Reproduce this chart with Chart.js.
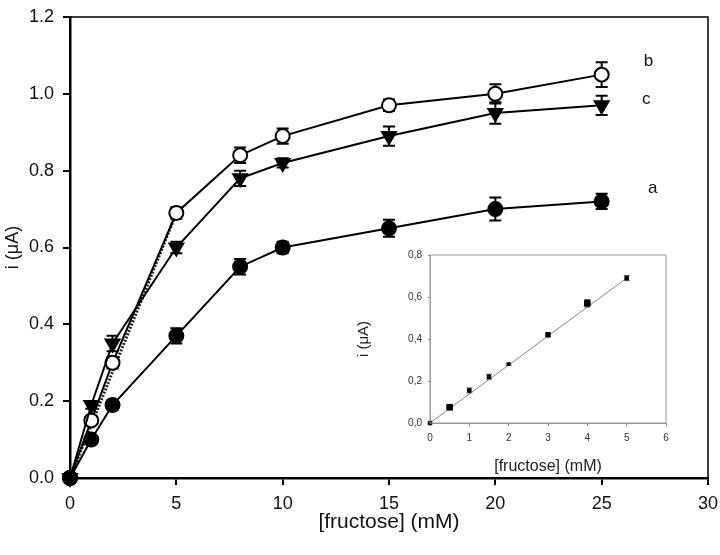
<!DOCTYPE html>
<html>
<head>
<meta charset="utf-8">
<script src="https://cdn.jsdelivr.net/npm/chart.js@4.4.1/dist/chart.umd.min.js"></script>
<style>
  html, body { margin: 0; padding: 0; background: #fff; }
  #wrap { position: relative; width: 720px; height: 555px; }
  #main { position: absolute; left: 0; top: 0; }
  #inset { position: absolute; left: 350px; top: 245px; }
</style>
</head>
<body>
<div id="wrap">
  <canvas id="main" width="720" height="555"></canvas>
  <canvas id="inset" width="330" height="232"></canvas>
</div>
<script>
// main plot data
const conc = [0, 1, 2, 5, 8, 10, 15, 20, 25];
const seriesA = [0, 0.10, 0.19, 0.37, 0.55, 0.60, 0.65, 0.70, 0.72];
const errA = [0.01, 0.01, 0.012, 0.02, 0.02, 0.015, 0.022, 0.03, 0.02];
const seriesB = [0, 0.15, 0.30, 0.69, 0.84, 0.89, 0.97, 1.00, 1.05];
const errB = [0.01, 0.01, 0.015, 0.015, 0.02, 0.02, 0.015, 0.025, 0.032];
const seriesC = [0, 0.19, 0.35, 0.60, 0.78, 0.82, 0.89, 0.95, 0.97];
const errC = [0.01, 0.01, 0.02, 0.015, 0.02, 0.012, 0.025, 0.028, 0.025];
const fitX = [0, 5];
const fitY = [0, 0.69];
const seriesNames = ["a", "b", "c"];
const mainYTicks = ["0.0", "0.2", "0.4", "0.6", "0.8", "1.0", "1.2"];

// inset data
const insetConc = [0, 0.5, 1, 1.5, 2, 3, 4, 5];
const insetI = [0, 0.075, 0.155, 0.22, 0.28, 0.42, 0.57, 0.69];
const insetErr = [0, 0.006, 0.012, 0.012, 0.005, 0.01, 0.018, 0.012];
const insetFitX = [0, 5];
const insetFitY = [0, 0.69];
const insetYTicks = ["0,0", "0,2", "0,4", "0,6", "0,8"];

// inset marker sizes (the scanned squares differ in size)
const insetMarkerRadius = [2.5, 4, 2.5, 2.5, 2, 3, 4, 2.5];

const FONT = "'Liberation Sans', Arial, sans-serif";

function pts(xs, ys) {
  return xs.map((x, i) => ({ x: x, y: ys[i] }));
}

const errorBars = {
  id: "errorBars",
  beforeDatasetsDraw(chart, args, opts) {
    const ctx = chart.ctx;
    const ys = chart.scales.y;
    chart.data.datasets.forEach((ds, i) => {
      if (!ds.errors) return;
      const meta = chart.getDatasetMeta(i);
      ctx.save();
      ctx.strokeStyle = opts.color;
      ctx.lineWidth = opts.width;
      meta.data.forEach((pt, j) => {
        const e = ds.errors[j];
        if (!e) return;
        const v = ds.data[j].y;
        const top = ys.getPixelForValue(v + e);
        const bot = ys.getPixelForValue(v - e);
        ctx.beginPath();
        ctx.moveTo(pt.x, top); ctx.lineTo(pt.x, bot);
        ctx.moveTo(pt.x - opts.cap, top); ctx.lineTo(pt.x + opts.cap, top);
        ctx.moveTo(pt.x - opts.cap, bot); ctx.lineTo(pt.x + opts.cap, bot);
        ctx.stroke();
      });
      ctx.restore();
    });
  }
};

const frame = {
  id: "frame",
  afterDraw(chart, args, opts) {
    const a = chart.chartArea;
    const ctx = chart.ctx;
    ctx.save();
    ctx.strokeStyle = opts.color;
    ctx.lineWidth = opts.width;
    ctx.strokeRect(a.left, a.top, a.right - a.left, a.bottom - a.top);
    ctx.restore();
  }
};

// series letters next to the last points
const letterPos = { a: [27.4, 0.755], b: [27.2, 1.085], c: [27.1, 0.985] };
const letters = {
  id: "letters",
  afterDraw(chart) {
    const ctx = chart.ctx;
    ctx.save();
    ctx.fillStyle = "#111";
    ctx.font = "17px " + FONT;
    ctx.textAlign = "center";
    ctx.textBaseline = "middle";
    seriesNames.forEach(n => {
      const p = letterPos[n];
      ctx.fillText(n, chart.scales.x.getPixelForValue(p[0]), chart.scales.y.getPixelForValue(p[1]));
    });
    ctx.restore();
  }
};

new Chart(document.getElementById("main"), {
  type: "line",
  data: {
    datasets: [
      {
        label: "a",
        data: pts(conc, seriesA),
        errors: errA,
        borderColor: "#000",
        borderWidth: 2,
        pointStyle: "circle",
        pointRadius: 7,
        pointBackgroundColor: "#000",
        pointBorderColor: "#000",
        clip: false
      },
      {
        label: "c",
        data: pts(conc, seriesC),
        errors: errC,
        borderColor: "#000",
        borderWidth: 2,
        pointStyle: "triangle",
        rotation: 180,
        pointRadius: 8,
        pointBackgroundColor: "#000",
        pointBorderColor: "#000",
        clip: false
      },
      {
        label: "b",
        data: pts(conc, seriesB),
        errors: errB,
        borderColor: "#000",
        borderWidth: 2,
        pointStyle: "circle",
        pointRadius: 7,
        pointBorderWidth: 2,
        pointBackgroundColor: "#fff",
        pointBorderColor: "#000",
        clip: false
      },
      {
        label: "fit",
        data: pts(fitX, fitY),
        borderColor: "#222",
        borderWidth: 3,
        borderDash: [2, 1.5],
        pointRadius: 0,
        clip: false
      }
    ]
  },
  options: {
    responsive: false,
    animation: false,
    layout: { padding: { top: 17, right: 12, left: 0, bottom: 0 } },
    plugins: {
      legend: { display: false },
      tooltip: { enabled: false },
      errorBars: { color: "#000", width: 2, cap: 6 },
      frame: { color: "#000", width: 1.5 }
    },
    scales: {
      x: {
        type: "linear",
        min: 0,
        max: 30,
        afterFit: s => { s.height = 77; s.paddingLeft = 0; s.paddingRight = 0; },
        ticks: { stepSize: 5, color: "#111", font: { family: FONT, size: 18 }, padding: 8 },
        grid: { drawOnChartArea: false, tickLength: 7, color: "#000", lineWidth: 2 },
        border: { color: "#000", width: 2.5 },
        title: {
          display: true,
          text: "[fructose] (mM)",
          color: "#111",
          font: { family: FONT, size: 21 },
          padding: { top: 4, bottom: 20 }
        }
      },
      y: {
        type: "linear",
        min: 0,
        max: 1.2,
        afterFit: s => { s.width = 70; s.paddingTop = 0; s.paddingBottom = 0; },
        ticks: {
          stepSize: 0.2,
          color: "#111",
          font: { family: FONT, size: 18 },
          padding: 9,
          callback: (v) => mainYTicks[Math.round(v / 0.2)]
        },
        grid: { drawOnChartArea: false, tickLength: 7, color: "#000", lineWidth: 2 },
        border: { color: "#000", width: 2.5 },
        title: {
          display: true,
          text: "i (\u03bcA)",
          color: "#111",
          font: { family: FONT, size: 18 },
          padding: { top: 2, bottom: 0 }
        }
      }
    }
  },
  plugins: [errorBars, frame, letters]
});

new Chart(document.getElementById("inset"), {
  type: "line",
  data: {
    datasets: [
      {
        label: "calibration",
        data: pts(insetConc, insetI),
        errors: insetErr,
        showLine: false,
        pointStyle: "rect",
        pointRadius: insetMarkerRadius,
        pointBackgroundColor: "#000",
        pointBorderColor: "#000",
        clip: false
      },
      {
        label: "fit",
        data: pts(insetFitX, insetFitY),
        borderColor: "#888",
        borderWidth: 1,
        pointRadius: 0,
        clip: false
      }
    ]
  },
  options: {
    responsive: false,
    animation: false,
    layout: { padding: { top: 10, right: 14, left: 0, bottom: 0 } },
    plugins: {
      legend: { display: false },
      tooltip: { enabled: false },
      errorBars: { color: "#555", width: 1, cap: 3 },
      frame: { color: "#999", width: 1 }
    },
    scales: {
      x: {
        type: "linear",
        min: 0,
        max: 6,
        afterFit: s => { s.height = 54; s.paddingLeft = 0; s.paddingRight = 0; },
        ticks: { stepSize: 1, color: "#333", font: { family: FONT, size: 10 }, padding: 6 },
        grid: { drawOnChartArea: false, tickLength: 3, color: "#888", lineWidth: 1 },
        border: { color: "#999", width: 1 },
        title: {
          display: true,
          text: "[fructose] (mM)",
          color: "#222",
          font: { family: FONT, size: 16 },
          padding: { top: 2, bottom: 1 }
        }
      },
      y: {
        type: "linear",
        min: 0,
        max: 0.8,
        afterFit: s => { s.width = 80; s.paddingTop = 0; s.paddingBottom = 0; },
        ticks: {
          stepSize: 0.2,
          color: "#333",
          font: { family: FONT, size: 10 },
          padding: 6,
          callback: (v) => insetYTicks[Math.round(v / 0.2)]
        },
        grid: { drawOnChartArea: false, tickLength: 2, color: "#888", lineWidth: 1 },
        border: { color: "#999", width: 1 },
        title: {
          display: true,
          text: "i (\u03bcA)",
          color: "#222",
          font: { family: FONT, size: 15 },
          padding: { top: 5, bottom: 0 }
        }
      }
    }
  },
  plugins: [errorBars, frame]
});
</script>
</body>
</html>
